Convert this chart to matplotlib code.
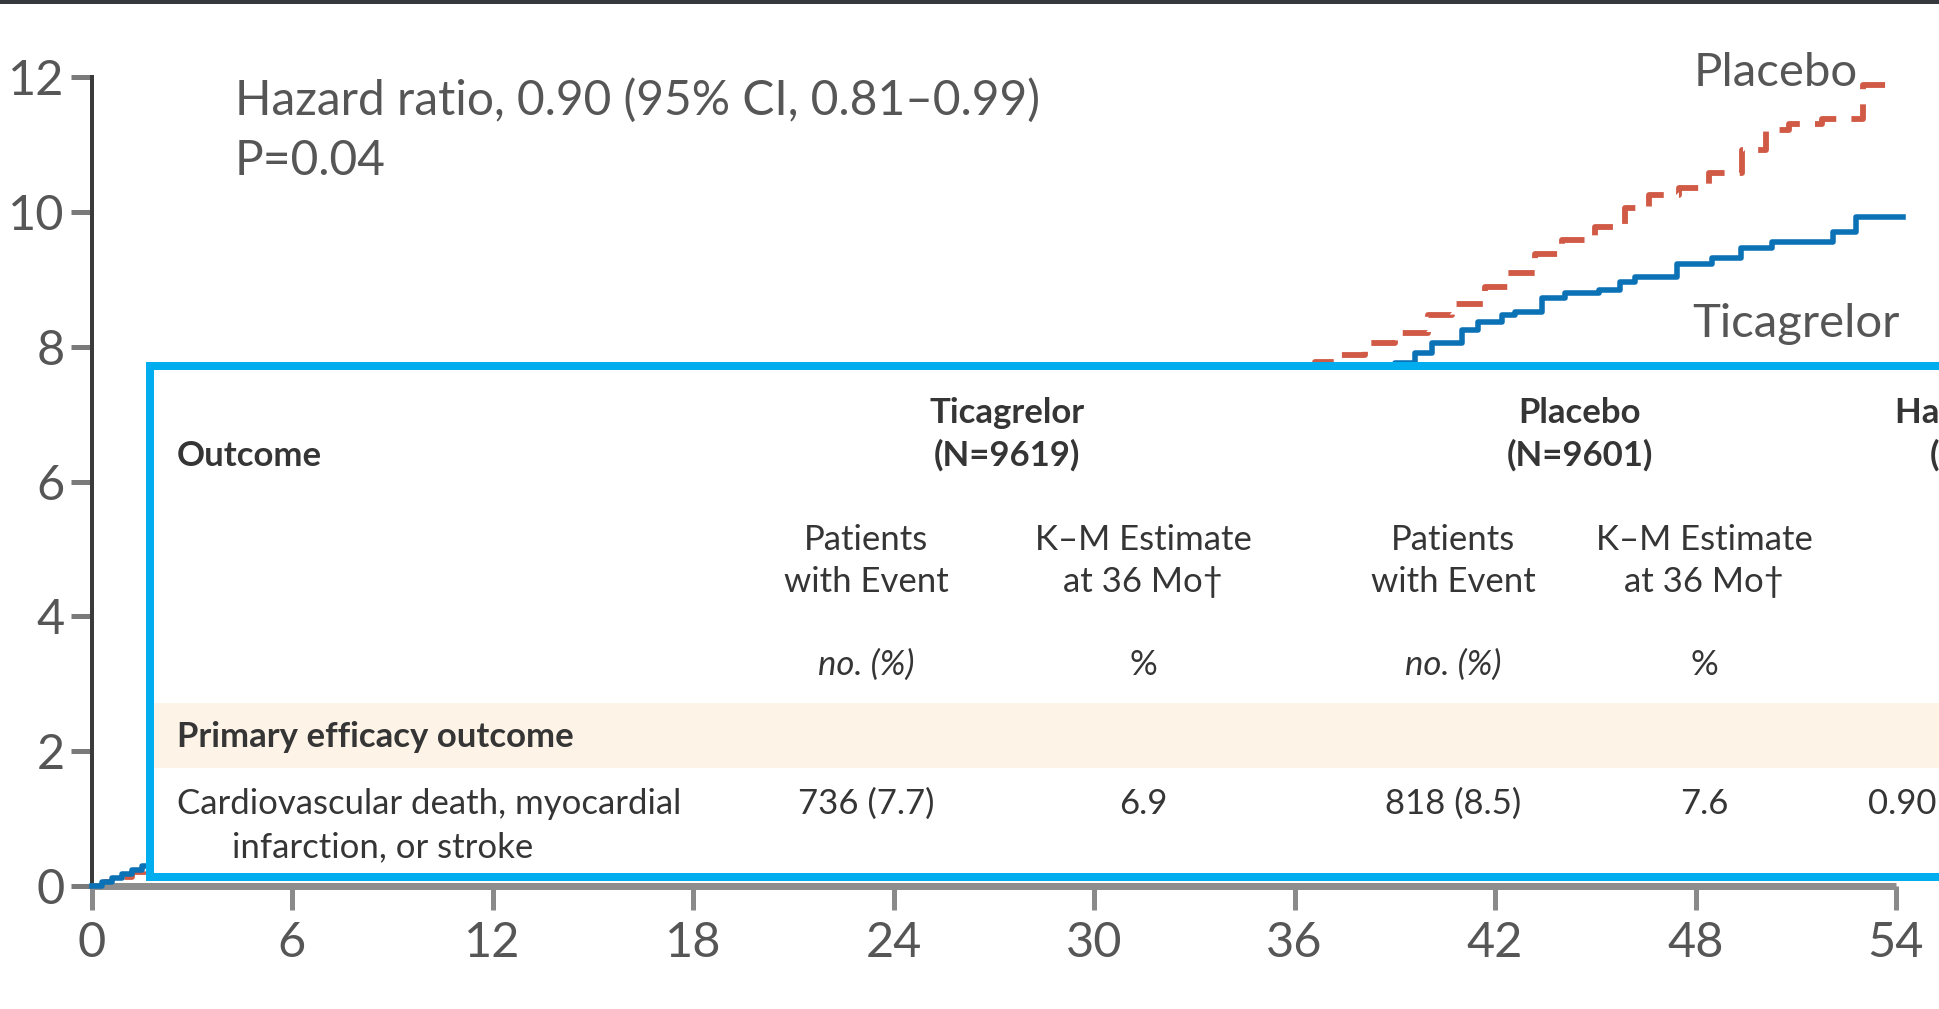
import matplotlib
matplotlib.use("Agg")
import matplotlib.pyplot as plt
from matplotlib.patches import Rectangle

# ---------------- data ----------------
# Kaplan-Meier cumulative incidence (%), step points (month, value)
ticagrelor_months = [0, 0.3, 0.6, 0.9, 1.2, 1.5, 1.8, 6, 12, 18, 24, 30, 36, 37, 38,
                     39.0, 39.6, 40.1, 41.0, 41.5, 42.2, 42.6, 43.4, 44.1, 45.1, 45.75,
                     46.2, 47.45, 48.5, 49.35, 50.3, 52.1, 52.8, 54.2]
ticagrelor_values = [0, 0.06, 0.12, 0.18, 0.24, 0.30, 0.35, 1.4, 2.6, 3.7, 4.8, 5.8, 6.9, 7.2, 7.5,
                     7.76, 7.90, 8.06, 8.24, 8.37, 8.47, 8.51, 8.72, 8.79, 8.84, 8.96,
                     9.03, 9.23, 9.31, 9.46, 9.55, 9.70, 9.93, 9.93]

placebo_months = [0, 0.4, 0.8, 1.2, 1.6, 6, 12, 18, 24, 30, 36.0, 36.6, 37.2, 38.1, 39.0,
                  40.0, 40.7, 41.7, 42.4, 43.2, 44.0, 45.0, 45.9, 46.6, 47.5, 48.4,
                  49.4, 50.1, 50.8, 51.8, 53.0, 54.0]
placebo_values = [0, 0.06, 0.13, 0.21, 0.28, 1.5, 2.8, 4.0, 5.2, 6.4, 7.6, 7.77, 7.87, 8.05, 8.20,
                  8.47, 8.64, 8.88, 9.09, 9.38, 9.58, 9.78, 10.05, 10.25, 10.36, 10.58,
                  10.91, 11.21, 11.30, 11.38, 11.88, 11.88]

x_ticks = [0, 6, 12, 18, 24, 30, 36, 42, 48, 54]
y_ticks = [0, 2, 4, 6, 8, 10, 12]

hazard_text = "Hazard ratio, 0.90 (95% CI, 0.81\u20130.99)"
p_text = "P=0.04"

# table contents
arm_names = ["Ticagrelor", "Placebo"]
arm_n = [9619, 9601]
events_no = [736, 818]
events_pct = [7.7, 8.5]
km_36 = [6.9, 7.6]
hr_value = "0.90 (0.81\u20130.99)"
outcome_group = "Primary efficacy outcome"
outcome_lines = ["Cardiovascular death, myocardial", "infarction, or stroke"]

# ---------------- styling ----------------
W, H = 1939, 1009
AX_FONT = ["Lato", "DejaVu Sans"]
TAB_FONT = ["Lato", "DejaVu Sans"]
BLUE = "#0b72b6"
RED = "#d05a45"
CYAN = "#00aeef"
AX_TXT = "#565656"
TAB_TXT = "#353535"

PT = 72.0 / 100.0  # points per pixel at 100 dpi

fig = plt.figure(figsize=(W / 100, H / 100), dpi=100)
fig.patch.set_facecolor("white")

# plot area in pixel terms
x0_px, x1_px = 91.5, 1896.0
y0_px, y1_px = 886.0, 77.0
ax = fig.add_axes([x0_px / W, 1 - y0_px / H, (x1_px - x0_px) / W, (y0_px - y1_px) / H])
ax.set_xlim(0, 54)
ax.set_ylim(0, 12)
ax.set_facecolor("none")

for side in ("top", "right"):
    ax.spines[side].set_visible(False)
ax.spines["left"].set_color("#3a3a3a")
ax.spines["left"].set_linewidth(4 * PT)
ax.spines["bottom"].set_color("#8e8e8e")
ax.spines["bottom"].set_linewidth(7 * PT)
ax.spines["bottom"].set_capstyle("butt")

ax.set_xticks(x_ticks)
ax.set_xticklabels([str(t) for t in x_ticks])
ax.set_yticks(y_ticks)
ax.set_yticklabels([str(t) for t in y_ticks])
ax.tick_params(axis="x", direction="out", length=24 * PT, width=5 * PT,
               color="#8a8a8a", pad=11 * PT, labelsize=35, labelcolor=AX_TXT)
ax.tick_params(axis="y", direction="out", length=21 * PT, width=5 * PT,
               color="#7a7a7a", pad=6 * PT, labelsize=35, labelcolor=AX_TXT)
for lab in ax.get_xticklabels() + ax.get_yticklabels():
    lab.set_family(AX_FONT)
xt = ax.xaxis.get_major_ticks()
xt[0].tick1line.set_color("#3a3a3a")
xt[-1].tick1line.set_color("#3a3a3a")

# Kaplan-Meier curves
ax.step(placebo_months, placebo_values, where="post", color=RED, lw=4.2,
        linestyle=(0, (4.5, 2.6)), zorder=2, clip_on=False)
ax.step(ticagrelor_months, ticagrelor_values, where="post", color=BLUE, lw=4.0,
        zorder=3, clip_on=False)


def px_to_data(xp, yp):
    mx = (xp - x0_px) / (x1_px - x0_px) * 54
    vy = (y0_px - yp) / (y0_px - y1_px) * 12
    return mx, vy


def ax_label(xp, yp, s, size):
    tx, ty = px_to_data(xp, yp)
    ax.text(tx, ty, s, fontsize=size, color=AX_TXT, family=AX_FONT,
            va="baseline", ha="left", clip_on=False)


ax_label(235, 115, hazard_text, 34.5)
ax_label(235, 175, p_text, 34.5)
ax_label(1694, 86, arm_names[1], 34)
ax_label(1692, 337, arm_names[0], 34)

# ---------------- results table panel ----------------
bx0, by0, by1 = 149.5, 877.0, 366.0
bx1 = W + 80
tab = fig.add_axes([bx0 / W, 1 - by0 / H, (bx1 - bx0) / W, (by0 - by1) / H], zorder=5)
tab.set_xlim(bx0, bx1)
tab.set_ylim(by0, by1)
tab.set_facecolor("white")
tab.set_xticks([])
tab.set_yticks([])
for s in tab.spines.values():
    s.set_color(CYAN)
    s.set_linewidth(8 * PT)
tab.axhspan(703, 768, facecolor="#fdf3e6", edgecolor="none", zorder=0)

TS = 25


def ttxt(x, y, s, ha="center", weight="normal", style="normal"):
    tab.text(x, y, s, ha=ha, va="baseline", fontsize=TS, color=TAB_TXT,
             family=TAB_FONT, fontweight=weight, fontstyle=style, clip_on=False)


col_events = [866, 1453]
col_km = [1143, 1704]
col_arm = [1007, 1580]
col_hr = 1995

ttxt(177, 466, "Outcome", ha="left", weight="bold")
for i in range(2):
    ttxt(col_arm[i], 423, arm_names[i], weight="bold")
    ttxt(col_arm[i], 466, f"(N={arm_n[i]})", weight="bold")
    ttxt(col_events[i], 550, "Patients")
    ttxt(col_events[i], 592, "with Event")
    ttxt(col_km[i], 550, "K\u2013M Estimate")
    ttxt(col_km[i], 592, "at 36 Mo\u2020")
    ttxt(col_events[i], 675, "no. (%)", style="italic")
    ttxt(col_km[i], 675, "%")
    ttxt(col_events[i], 814, f"{events_no[i]} ({events_pct[i]})")
    ttxt(col_km[i], 814, f"{km_36[i]}")
ttxt(col_hr, 423, "Hazard Ratio", weight="bold")
ttxt(col_hr, 466, "(95% CI)", weight="bold")
ttxt(col_hr, 814, hr_value)

ttxt(177, 747, outcome_group, ha="left", weight="bold")
ttxt(177, 814, outcome_lines[0], ha="left")
ttxt(232, 857, outcome_lines[1], ha="left")

# dark rule along the top edge
fig.patches.append(Rectangle((0, 1 - 3.5 / H), 1, 3.5 / H, transform=fig.transFigure,
                             facecolor="#35383d", edgecolor="none", zorder=10))

fig.savefig("out.png", dpi=100)
